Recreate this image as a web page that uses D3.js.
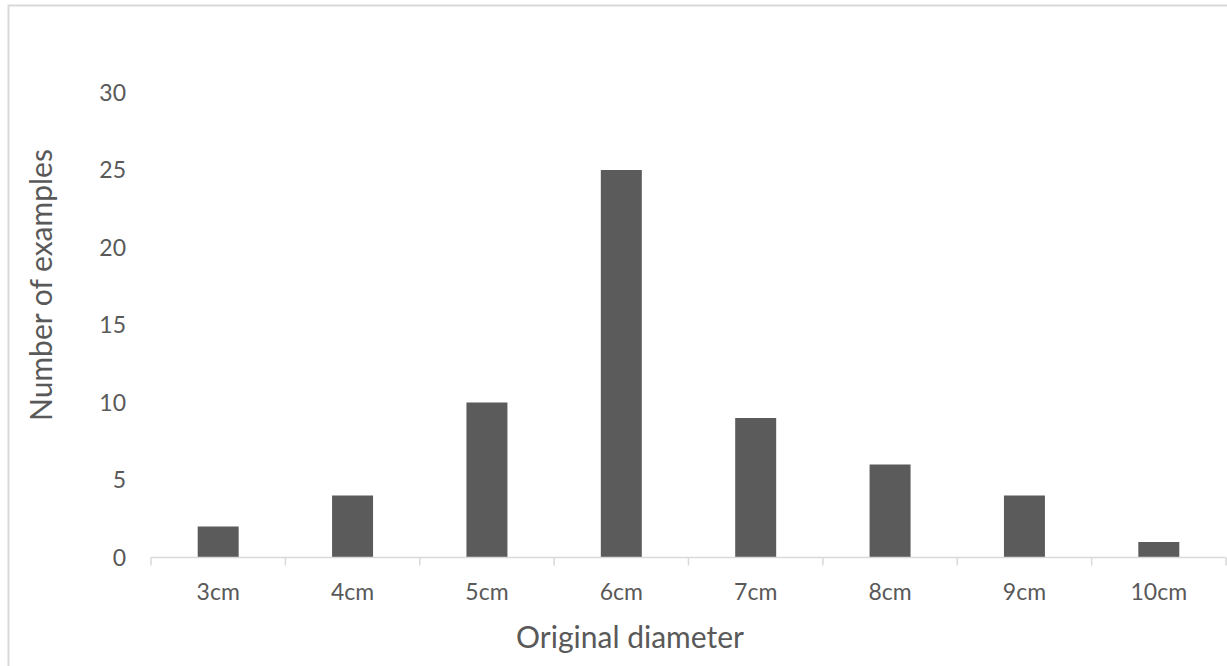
<!DOCTYPE html>
<html>
<head>
<meta charset="utf-8">
<script src="https://cdn.jsdelivr.net/npm/d3@7"></script>
<style>
  body { margin: 0; background: #fff; }
  svg text { font-family: Lato, "Open Sans", sans-serif; fill: #595959; }
</style>
</head>
<body>
<div id="chart"></div>
<script>
// data
const categories = ["3cm", "4cm", "5cm", "6cm", "7cm", "8cm", "9cm", "10cm"];
const counts = [2, 4, 10, 25, 9, 6, 4, 1];
const yTicks = [0, 5, 10, 15, 20, 25, 30];

const W = 1227, H = 666;
const plot = { left: 151, right: 1226, top: 92.5, bottom: 557.5 };

const svg = d3.select("#chart")
    .append("svg")
    .attr("width", W)
    .attr("height", H);

// chart frame (cropped on right / bottom like the reference)
svg.append("rect")
    .attr("x", 8.5)
    .attr("y", 5.5)
    .attr("width", W + 20)
    .attr("height", H + 20)
    .attr("fill", "none")
    .attr("stroke", "#d9d9d9")
    .attr("stroke-width", 2);

const x = d3.scaleBand()
    .domain(categories)
    .range([plot.left, plot.right])
    .paddingInner(0.695)
    .paddingOuter(0.3475);

const xTickScale = d3.scaleLinear()
    .domain([0, categories.length])
    .range([plot.left, plot.right]);

const y = d3.scaleLinear()
    .domain([0, 30])
    .range([plot.bottom, plot.top]);

// bars
svg.selectAll(".bar")
    .data(counts)
    .enter().append("rect")
    .attr("class", "bar")
    .attr("x", (d, i) => x(categories[i]))
    .attr("y", d => y(d))
    .attr("width", x.bandwidth())
    .attr("height", d => y(0) - y(d))
    .attr("fill", "#5b5b5b");

// x axis line + tick marks between categories
svg.append("line")
    .attr("x1", plot.left)
    .attr("x2", plot.right)
    .attr("y1", plot.bottom)
    .attr("y2", plot.bottom)
    .attr("stroke", "#d9d9d9")
    .attr("stroke-width", 1.5);

svg.selectAll(".xtick")
    .data(d3.range(categories.length + 1))
    .enter().append("line")
    .attr("class", "xtick")
    .attr("x1", d => xTickScale(d))
    .attr("x2", d => xTickScale(d))
    .attr("y1", plot.bottom)
    .attr("y2", plot.bottom + 8)
    .attr("stroke", "#d9d9d9")
    .attr("stroke-width", 1.5);

// x labels
svg.selectAll(".xlabel")
    .data(categories)
    .enter().append("text")
    .attr("class", "xlabel")
    .attr("x", d => x(d) + x.bandwidth() / 2)
    .attr("y", 592)
    .attr("dy", "0.35em")
    .attr("text-anchor", "middle")
    .style("font-size", "23px")
    .text(d => d);

// y labels
svg.selectAll(".ylabel")
    .data(yTicks)
    .enter().append("text")
    .attr("class", "ylabel")
    .attr("x", 126)
    .attr("y", d => y(d))
    .attr("dy", "0.35em")
    .attr("text-anchor", "end")
    .style("font-size", "23px")
    .text(d => d);

// axis titles
svg.append("text")
    .attr("x", 630)
    .attr("y", 637)
    .attr("dy", "0.35em")
    .attr("text-anchor", "middle")
    .style("font-size", "30px")
    .text("Original diameter");

svg.append("text")
    .attr("transform", "translate(41, 285) rotate(-90)")
    .attr("dy", "0.35em")
    .attr("text-anchor", "middle")
    .style("font-size", "30px")
    .text("Number of examples");
</script>
</body>
</html>
